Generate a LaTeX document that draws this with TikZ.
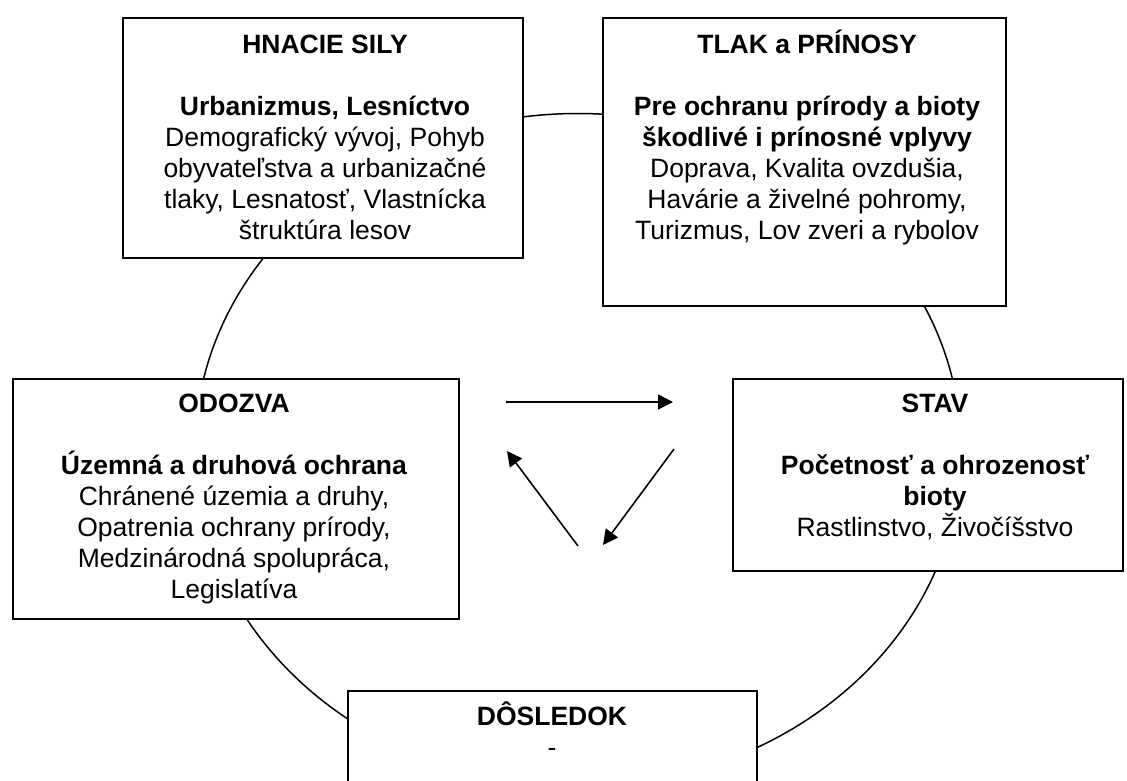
\documentclass[tikz,border=0pt]{standalone}
\usepackage{fontspec}
\setmainfont{Liberation Sans}
\usetikzlibrary{arrows.meta}
\begin{document}
\begin{tikzpicture}[x=1pt,y=-1pt,
  box/.style={draw=black, line width=1.8pt, fill=white, inner sep=0pt, anchor=north west},
  txt/.style={anchor=north, inner sep=0pt, align=center, font=\fontsize{26.5}{31}\selectfont},
  arr/.style={line width=1.6pt, -{Triangle[length=15pt,width=15pt]}},
  ring/.style={line width=1.5pt}]
\useasboundingbox (0,0) rectangle (1127,781);
\draw[ring] (578,450) ellipse [x radius=383pt, y radius=336.5pt];

\node[box, minimum width=400pt, minimum height=240pt] (b1) at (122,17) {};
\node[box, minimum width=403pt, minimum height=288pt] (b2) at (602,17) {};
\node[box, minimum width=446pt, minimum height=240pt] (b3) at (12,378) {};
\node[box, minimum width=390pt, minimum height=192pt] (b4) at (732,378) {};
\node[box, minimum width=409pt, minimum height=130pt] (b5) at (347,690) {};

\node[txt] (t1) at (325,23) {\rule{0pt}{30pt}\textbf{HNACIE SILY}\\[31pt]
  \textbf{Urbanizmus, Lesníctvo}\\Demografický vývoj, Pohyb\\obyvateľstva a urbanizačné\\tlaky, Lesnatosť, Vlastnícka\\štruktúra lesov};
\node[txt] (t2) at (807,23) {\rule{0pt}{30pt}\textbf{TLAK a PRÍNOSY}\\[31pt]
  \textbf{Pre ochranu prírody a bioty}\\\textbf{škodlivé i prínosné vplyvy}\\Doprava, Kvalita ovzdušia,\\Havárie a živelné pohromy,\\Turizmus, Lov zveri a rybolov};
\node[txt] (t3) at (234,382) {\rule{0pt}{30pt}\textbf{ODOZVA}\\[31pt]
  \textbf{Územná a druhová ochrana}\\Chránené územia a druhy,\\Opatrenia ochrany prírody,\\Medzinárodná spolupráca,\\Legislatíva};
\node[txt] (t4) at (935,382) {\rule{0pt}{30pt}\textbf{STAV}\\[31pt]
  \textbf{Početnosť a ohrozenosť}\\\textbf{bioty}\\Rastlinstvo, Živočíšstvo};
\node[txt] (t5) at (552,695) {\rule{0pt}{30pt}\textbf{DÔSLEDOK}\\-};

\coordinate (a1s) at (506,402); \coordinate (a1e) at (673,402);
\coordinate (a2s) at (674,449); \coordinate (a2e) at (603,545);
\coordinate (a3s) at (578,546); \coordinate (a3e) at (507,451);
\draw[arr] (a1s) -- (a1e);
\draw[arr] (a2s) -- (a2e);
\draw[arr] (a3s) -- (a3e);
\end{tikzpicture}
\end{document}
